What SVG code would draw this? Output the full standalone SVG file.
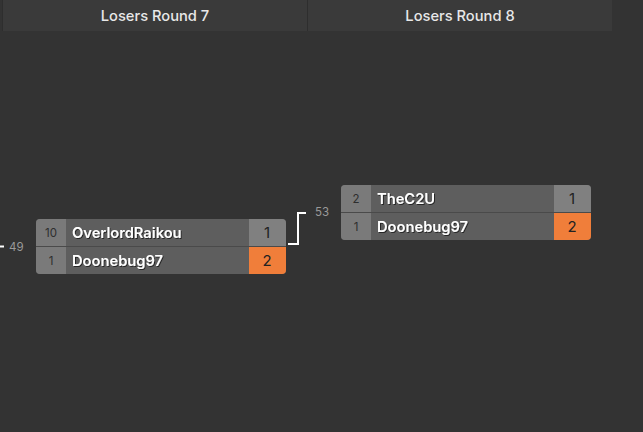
<svg xmlns="http://www.w3.org/2000/svg" width="643" height="432" viewBox="0 0 643 432">
<defs>
<style>
.hdr{fill:#3a3a3a}
.ht{font-family:Inter,"Noto Sans",sans-serif;font-size:14.7px;font-weight:500;fill:#e8e8e8;text-anchor:middle}
.seed{fill:#7a7a7a}
.name{fill:#5e5e5e}
.score{fill:#808080}
.win{fill:#f07e3a}
.st{font-family:Inter,"Noto Sans",sans-serif;font-size:11.5px;fill:#2e2e2e;text-anchor:middle}
.nt{font-family:Inter,"Noto Sans",sans-serif;font-size:14.7px;font-weight:600;fill:#ffffff}
.sc{font-family:Inter,"Noto Sans",sans-serif;font-size:15px;fill:#222;text-anchor:middle}
.lbl{font-family:Inter,"Noto Sans",sans-serif;font-size:11.5px;fill:#9a9a9a}
.div{stroke:#4a4a4a;stroke-width:1}
.conn{fill:none;stroke:#ffffff;stroke-width:2}
</style>
<filter id="sh" x="-10%" y="-20%" width="120%" height="150%">
<feDropShadow dx="1" dy="1" stdDeviation="0.6" flood-color="#000" flood-opacity="0.6"/>
</filter>
<clipPath id="c1"><rect x="36" y="219" width="250" height="55" rx="4"/></clipPath>
<clipPath id="c2"><rect x="341" y="185" width="250" height="55" rx="4"/></clipPath>
</defs>
<rect width="643" height="432" fill="#333333"/>
<g id="header">
<rect class="hdr" x="2" y="0" width="305" height="31"/>
<rect class="hdr" x="308" y="0" width="304" height="31"/>
<line x1="2.5" y1="0" x2="2.5" y2="31" stroke="#2e2e2e"/>
<line x1="307.5" y1="0" x2="307.5" y2="31" stroke="#2e2e2e"/>
<text class="ht" x="155" y="21">Losers Round 7</text>
<text class="ht" x="460" y="21">Losers Round 8</text>
</g>
<g id="connectors">
<line class="conn" x1="0" y1="246.5" x2="4" y2="246.5"/>
<polyline class="conn" points="288,244 298,244 298,213 306,213"/>
<text class="lbl" x="9" y="251">49</text>
<text class="lbl" x="315" y="216">53</text>
</g>
<g id="match-49">
<g clip-path="url(#c1)">
<rect class="name" x="36" y="219" width="250" height="55"/>
<rect class="seed" x="36" y="219" width="30" height="55"/>
<rect class="score" x="249" y="219" width="37" height="28"/>
<rect class="win" x="249" y="247" width="37" height="27"/>
<line class="div" x1="36" y1="246.5" x2="286" y2="246.5"/>
</g>
<text class="st" x="51" y="237">10</text>
<text class="st" x="51" y="265">1</text>
<text class="nt" x="72" y="238" filter="url(#sh)">OverlordRaikou</text>
<text class="nt" x="72" y="266" filter="url(#sh)">Doonebug97</text>
<text class="sc" x="267" y="238">1</text>
<text class="sc" x="267" y="266">2</text>
</g>
<g id="match-53">
<g clip-path="url(#c2)">
<rect class="name" x="341" y="185" width="250" height="55"/>
<rect class="seed" x="341" y="185" width="30" height="55"/>
<rect class="score" x="554" y="185" width="37" height="28"/>
<rect class="win" x="554" y="213" width="37" height="27"/>
<line class="div" x1="341" y1="212.5" x2="591" y2="212.5"/>
</g>
<text class="st" x="356" y="203">2</text>
<text class="st" x="356" y="231">1</text>
<text class="nt" x="377" y="204" filter="url(#sh)">TheC2U</text>
<text class="nt" x="377" y="232" filter="url(#sh)">Doonebug97</text>
<text class="sc" x="572" y="204">1</text>
<text class="sc" x="572" y="232">2</text>
</g>
</svg>
